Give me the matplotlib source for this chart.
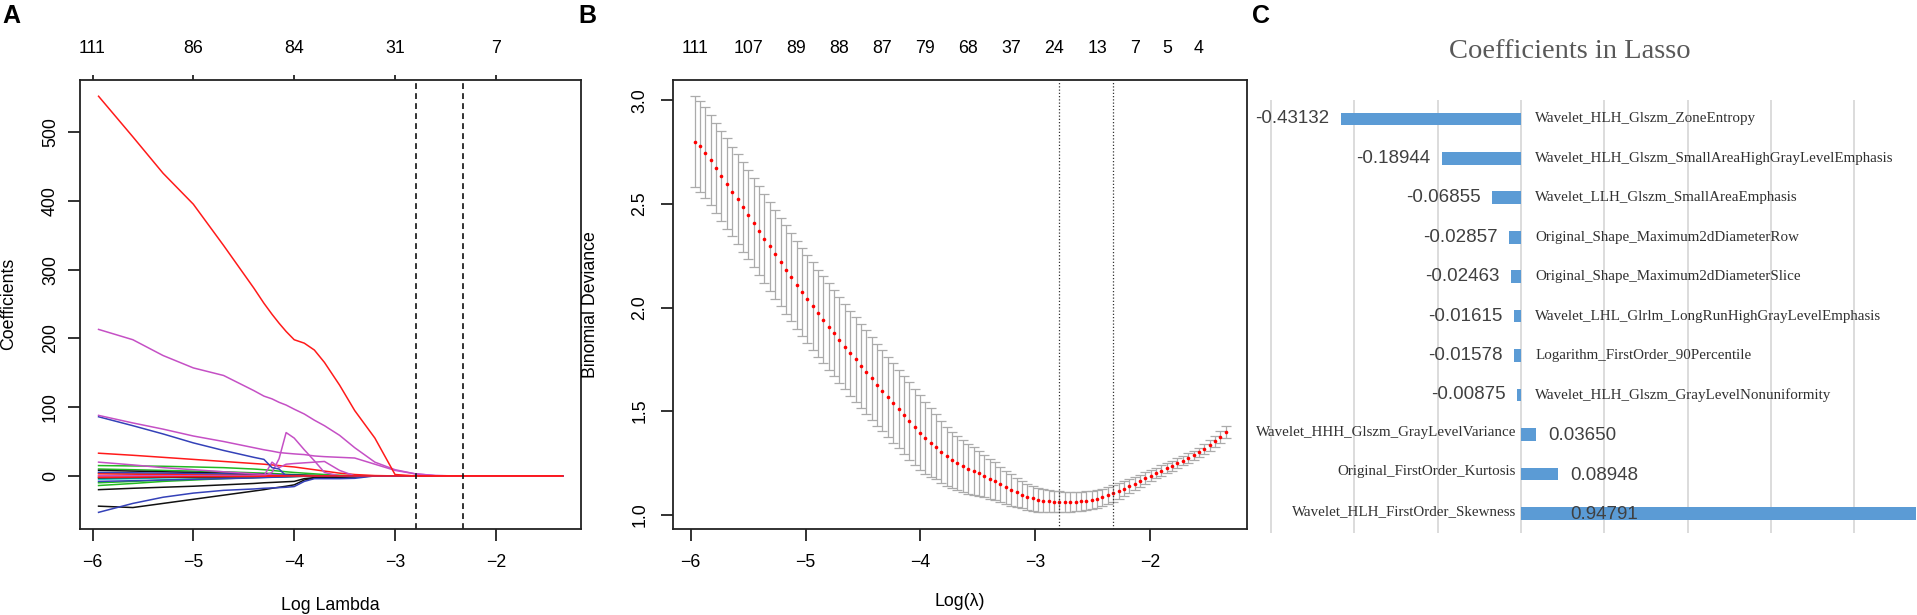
import numpy as np
import matplotlib
matplotlib.use('Agg')
import matplotlib.pyplot as plt
from matplotlib.ticker import FormatStrFormatter

plt.rcParams['font.family'] = ['Liberation Sans', 'DejaVu Sans']

## ---------------- panel A: lasso coefficient paths ----------------
path_knots = [-5.94, -5.6, -5.3, -5.0, -4.7, -4.4, -4.3, -4.22, -4.15, -4.08, -4.0,
              -3.9, -3.8, -3.7, -3.55, -3.4, -3.2, -3.0, -2.8, -2.6, -2.4, -1.34]

red_main   = [552, 493, 440, 395, 335, 273, 251, 235, 222, 210, 198, 193, 183, 165, 132, 95, 55, 2, 0, 0, 0, 0]
pink_main  = [213, 198, 175, 157, 146, 124, 116, 112, 107, 103, 97, 90, 81, 73, 59, 41, 20, 9, 3, 0.5, 0, 0]
pink_2     = [88, 77, 68, 58, 50, 41, 38, 36, 34, 33, 32, 31, 29, 28, 27, 26, 17, 8, 3, 0.5, 0, 0]
blue_1     = [86, 73, 61, 48, 37, 27, 24, 12, 10, 0, 0, 0, 0, 0, 0, 0, 0, 0, 0, 0, 0, 0]
pink_spike = [0, 0, 0, 0, 0, 0, 0, 5, 25, 63, 55, 38, 22, 5, 0, 0, 0, 0, 0, 0, 0, 0]
pink_small = [0, 0, 0, 0, 0, 0, 0, 20, 12, 17, 18, 19, 20, 21, 8, 0, 0, 0, 0, 0, 0, 0]
red_2      = [33, 30, 27, 24, 21, 18, 17, 16, 15, 14, 13, 11, 9, 7, 4, 2, 0.5, 0, 0, 0, 0, 0]
black_1    = [-20, -18, -16.5, -15, -13, -11, -10, -9.5, -9, -8.5, -8, -4, -2.5, -2, -1.5, -1, 0, 0, 0, 0, 0, 0]
black_2    = [-44, -46, -40, -34, -28, -22, -20, -18, -16.5, -15, -13, -6, -3, -2.5, -2, -1.5, 0, 0, 0, 0, 0, 0]
blue_2     = [-53, -40, -31, -25, -21, -19, -18, -17.5, -17, -16.5, -15.5, -8, -4, -4, -4, -3.5, 0, 0, 0, 0, 0, 0]
green_1    = [15, 14.5, 14, 13, 12, 10, 9, 8, 7, 6, 5, 4, 3, 2, 1, 0, 0, 0, 0, 0, 0, 0]
green_2    = [-10, -8, -6, -4.5, -3, -2, -1.5, -1.2, -1, -0.8, -0.5, -0.3, 0, 0, 0, 0, 0, 0, 0, 0, 0, 0]
green_3    = [10, 9, 8, 7, 6, 4.5, 4, 3.5, 3, 2.5, 2, 1, 0.5, 0, 0, 0, 0, 0, 0, 0, 0, 0]
green_4    = [-14, -11, -8, -6, -4, -2.5, -2, -1.8, -1.5, -1.2, -1, -0.5, 0, 0, 0, 0, 0, 0, 0, 0, 0, 0]
cyan_1     = [-5, -4, -3, -2.5, -2, -1.5, -1.2, -1, -0.8, -0.6, -0.4, 0, 0, 0, 0, 0, 0, 0, 0, 0, 0, 0]
cyan_2     = [4, 3.5, 3, 2.5, 2, 1.5, 1.2, 1, 0.8, 0.6, 0.4, 0.2, 0, 0, 0, 0, 0, 0, 0, 0, 0, 0]
black_3    = [8, 7, 6, 5, 4, 3, 2.5, 2, 1.8, 1.5, 1.2, 1, 0.5, 0, 0, 0, 0, 0, 0, 0, 0, 0]
black_4    = [-3, -2.5, -2, -1.8, -1.5, -1, -0.8, -0.6, -0.5, -0.4, -0.3, -0.2, 0, 0, 0, 0, 0, 0, 0, 0, 0, 0]
blue_3     = [5, 4.5, 4, 3.5, 3, 2.5, 2, 2, 1.5, 1.2, 1, 0.5, 0, 0, 0, 0, 0, 0, 0, 0, 0, 0]
blue_4     = [-8, -7, -6, -5, -4, -3, -2.5, -2, -1.8, -1.5, -1, -0.5, 0, 0, 0, 0, 0, 0, 0, 0, 0, 0]
pink_3     = [20, 16, 12, 9, 6, 3, 2, 1.5, 1, 0.5, 0, 0, 0, 0, 0, 0, 0, 0, 0, 0, 0, 0]
red_3      = [3, 2.5, 2, 1.5, 1, 0.5, 0.3, 0.2, 0.1, 0, 0, 0, 0, 0, 0, 0, 0, 0, 0, 0, 0, 0]
red_4      = [-2, -1.8, -1.5, -1.2, -1, -0.8, -0.5, -0.3, 0, 0, 0, 0, 0, 0, 0, 0, 0, 0, 0, 0, 0, 0]

top_ticks_A = [-6, -5, -4, -3, -2]
top_labels_A = ['111', '86', '84', '31', '7']

## ---------------- panel B: cross-validation curve ----------------
log_lambda = [
    -5.965, -5.918, -5.872, -5.825, -5.778, -5.732, -5.685, -5.638, -5.592, -5.545,
    -5.498, -5.452, -5.405, -5.358, -5.312, -5.265, -5.218, -5.171, -5.125, -5.078,
    -5.031, -4.985, -4.938, -4.891, -4.845, -4.798, -4.751, -4.705, -4.658, -4.611,
    -4.565, -4.518, -4.471, -4.425, -4.378, -4.331, -4.285, -4.238, -4.191, -4.144,
    -4.098, -4.051, -4.004, -3.958, -3.911, -3.864, -3.818, -3.771, -3.724, -3.678,
    -3.631, -3.584, -3.538, -3.491, -3.444, -3.398, -3.351, -3.304, -3.258, -3.211,
    -3.164, -3.118, -3.071, -3.024, -2.977, -2.931, -2.884, -2.837, -2.791, -2.744,
    -2.697, -2.651, -2.604, -2.557, -2.511, -2.464, -2.417, -2.371, -2.324, -2.277,
    -2.231, -2.184, -2.137, -2.091, -2.044, -1.997, -1.951, -1.904, -1.857, -1.811,
    -1.764, -1.717, -1.671, -1.624, -1.577, -1.531, -1.484, -1.437, -1.391, -1.344]
cv_mean = [
    2.800, 2.778, 2.748, 2.712, 2.673, 2.635, 2.598, 2.560, 2.522, 2.486,
    2.448, 2.410, 2.371, 2.333, 2.295, 2.258, 2.220, 2.183, 2.147, 2.110,
    2.074, 2.040, 2.006, 1.972, 1.940, 1.907, 1.875, 1.843, 1.811, 1.780,
    1.749, 1.718, 1.688, 1.658, 1.628, 1.598, 1.568, 1.539, 1.510, 1.481,
    1.452, 1.424, 1.396, 1.370, 1.348, 1.327, 1.302, 1.281, 1.264, 1.249,
    1.235, 1.221, 1.210, 1.199, 1.187, 1.174, 1.161, 1.146, 1.132, 1.119,
    1.107, 1.096, 1.086, 1.078, 1.072, 1.068, 1.065, 1.063, 1.062, 1.062,
    1.062, 1.063, 1.064, 1.067, 1.071, 1.077, 1.084, 1.093, 1.103, 1.114,
    1.126, 1.138, 1.150, 1.162, 1.175, 1.188, 1.201, 1.213, 1.225, 1.237,
    1.249, 1.261, 1.273, 1.286, 1.300, 1.316, 1.334, 1.355, 1.376, 1.397]
cv_se = [
    0.220, 0.220, 0.219, 0.219, 0.218, 0.218, 0.218, 0.217, 0.217, 0.217,
    0.216, 0.216, 0.216, 0.215, 0.215, 0.215, 0.214, 0.214, 0.214, 0.213,
    0.213, 0.212, 0.212, 0.211, 0.210, 0.209, 0.208, 0.207, 0.206, 0.205,
    0.204, 0.203, 0.202, 0.200, 0.198, 0.196, 0.194, 0.192, 0.190, 0.188,
    0.186, 0.183, 0.180, 0.174, 0.166, 0.157, 0.150, 0.143, 0.137, 0.131,
    0.125, 0.120, 0.115, 0.109, 0.103, 0.097, 0.092, 0.086, 0.080, 0.075,
    0.070, 0.066, 0.062, 0.059, 0.057, 0.055, 0.053, 0.052, 0.050, 0.049,
    0.048, 0.047, 0.046, 0.045, 0.044, 0.043, 0.042, 0.041, 0.040, 0.038,
    0.036, 0.034, 0.032, 0.030, 0.029, 0.027, 0.026, 0.025, 0.024, 0.024,
    0.023, 0.023, 0.023, 0.023, 0.024, 0.025, 0.026, 0.027, 0.028, 0.029]
## number of non-zero coefficients, shown at these lambda indices
nz_index = [0, 10, 19, 27, 35, 43, 51, 59, 67, 75, 82, 88, 94]
nz_labels = ['111', '107', '89', '88', '87', '79', '68', '37', '24', '13', '7', '5', '4']

## ---------------- panel C: selected features ----------------
features = [
    'Wavelet_HLH_Glszm_ZoneEntropy',
    'Wavelet_HLH_Glszm_SmallAreaHighGrayLevelEmphasis',
    'Wavelet_LLH_Glszm_SmallAreaEmphasis',
    'Original_Shape_Maximum2dDiameterRow',
    'Original_Shape_Maximum2dDiameterSlice',
    'Wavelet_LHL_Glrlm_LongRunHighGrayLevelEmphasis',
    'Logarithm_FirstOrder_90Percentile',
    'Wavelet_HLH_Glszm_GrayLevelNonuniformity',
    'Wavelet_HHH_Glszm_GrayLevelVariance',
    'Original_FirstOrder_Kurtosis',
    'Wavelet_HLH_FirstOrder_Skewness']
coefs = [-0.43132, -0.18944, -0.06855, -0.02857, -0.02463, -0.01615,
         -0.01578, -0.00875, 0.03650, 0.08948, 0.94791]
grid_ticks = [-0.6, -0.4, -0.2, 0, 0.2, 0.4, 0.6, 0.8]

## ---------------- figure ----------------
W, H = 1917, 615
fig = plt.figure(figsize=(W / 100, H / 100), dpi=100)

def px_axes(left, top, right, bottom):
    """axes from pixel box (origin top left)"""
    return fig.add_axes([left / W, 1 - bottom / H, (right - left) / W, (bottom - top) / H])

R_COLORS = {'red': '#ff1a1a', 'pink': '#c550c5', 'blue': '#3441b8', 'green': '#22b822',
            'black': '#111111', 'cyan': '#22cccc'}
FS = 12.8
LW_BOX = 1.3

def r_style(ax, ypad):
    for sp in ax.spines.values():
        sp.set_linewidth(LW_BOX)
        sp.set_color('#222222')
    ax.tick_params(direction='out', length=8.6, width=LW_BOX, labelsize=FS, color='#222222')
    ax.tick_params(axis='x', pad=9.5)
    ax.tick_params(axis='y', pad=ypad, labelrotation=90)
    for lab in ax.get_yticklabels():
        lab.set_va('center')

## ---- A ----
axA = px_axes(80, 79.6, 581, 529)
paths = [
    (green_1, 'green'), (green_2, 'green'), (green_3, 'green'), (green_4, 'green'),
    (cyan_1, 'cyan'), (cyan_2, 'cyan'), (black_3, 'black'), (black_4, 'black'),
    (blue_3, 'blue'), (blue_4, 'blue'), (pink_3, 'pink'), (red_3, 'red'),
    (black_1, 'black'), (black_2, 'black'), (blue_2, 'blue'), (red_2, 'red'),
    (pink_small, 'pink'), (pink_spike, 'pink'), (blue_1, 'blue'), (pink_2, 'pink'),
    (pink_main, 'pink'), (red_main, 'red'), (red_4, 'red')]
for vals, col in paths:
    axA.plot(path_knots, vals, color=R_COLORS[col], lw=1.1)
axA.margins(x=0.04, y=0.04)
axA.set_xticks([-6, -5, -4, -3, -2])
axA.set_yticks([0, 100, 200, 300, 400, 500])
r_style(axA, 6.5)

## lambda.min and lambda.1se from the CV curve
i_min = int(np.argmin(cv_mean))
thr = cv_mean[i_min] + cv_se[i_min]
i_1se = max(i for i, m in enumerate(cv_mean) if m <= thr)
for i in (i_min, i_1se):
    axA.axvline(log_lambda[i], color='#111111', lw=1.2, ls=(0, (3.5, 2.5)))

secA = axA.secondary_xaxis('top')
secA.set_xticks(top_ticks_A, labels=top_labels_A)
secA.tick_params(length=3.6, width=LW_BOX, labelsize=FS, pad=12.5, color='#222222')
secA.spines['top'].set_visible(False)

axA.set_xlabel('Log Lambda', fontsize=FS)
axA.xaxis.set_label_coords(0.5, (529 - 606) / 449.4)
axA.xaxis.label.set_va('center')
axA.set_ylabel('Coefficients', fontsize=FS)
axA.yaxis.set_label_coords((8.5 - 80) / 501, 0.5)
axA.yaxis.label.set_va('center')

## ---- B ----
axB = px_axes(673.4, 79.6, 1247, 529)
axB.errorbar(log_lambda, cv_mean, yerr=cv_se, fmt='none', ecolor='#ababab',
             elinewidth=0.9, capsize=3.8, capthick=0.9)
axB.plot(log_lambda, cv_mean, 'o', color='#ff0000', ms=2.6, mec='none')
axB.margins(x=0.04, y=0.04)
for i in (i_min, i_1se):
    axB.axvline(log_lambda[i], color='#333333', lw=0.9, ls=(0, (1, 1.6)))
axB.set_xticks([-6, -5, -4, -3, -2])
axB.set_yticks([1.0, 1.5, 2.0, 2.5, 3.0])
axB.yaxis.set_major_formatter(FormatStrFormatter('%.1f'))
r_style(axB, 9.5)

secB = axB.secondary_xaxis('top')
secB.set_xticks([log_lambda[i] for i in nz_index], labels=nz_labels)
secB.tick_params(length=0, labelsize=FS, pad=16.3)
secB.spines['top'].set_visible(False)

axB.set_xlabel('Log(λ)', fontsize=FS)
axB.xaxis.set_label_coords(0.5, (529 - 602) / 449.4)
axB.xaxis.label.set_va('center')
axB.set_ylabel('Binomial Deviance', fontsize=FS)
axB.yaxis.set_label_coords((590 - 673.4) / 573.6, 0.5)
axB.yaxis.label.set_va('center')

## ---- C ----
zero_px = 1521
unit_px = 416.5
xlo, xhi = -0.62, (W - zero_px) / unit_px
axC = px_axes(zero_px + xlo * unit_px, 100, W, 533)
rows = np.arange(len(coefs))
axC.barh(rows, coefs, height=0.32, color='#5b9bd5', zorder=2)
axC.set_xlim(xlo, xhi)
axC.set_ylim(len(coefs) - 0.5, -0.48)
axC.set_xticks(grid_ticks)
axC.set_yticks([])
axC.tick_params(length=0, labelbottom=False)
axC.grid(axis='x', color='#d6d6d6', lw=1.2, zorder=0)
axC.set_axisbelow(True)
for sp in axC.spines.values():
    sp.set_visible(False)

name_kw = dict(family=['Liberation Serif', 'DejaVu Serif'], fontsize=10.8, color='#303030', va='center')
val_kw = dict(family=['Liberation Sans', 'DejaVu Sans'], fontsize=13.5, color='#404040', va='center')
pad = 0.028
for r, name, v in zip(rows, features, coefs):
    lab = f'{v:.5f}'
    if v < 0:
        axC.text(0.034, r, name, ha='left', **name_kw)
        axC.text(v - pad, r, lab, ha='right', **val_kw)
    else:
        axC.text(-0.012, r - 0.05, name, ha='right', **name_kw)
        ## labels of bars running off the panel sit near the base of the bar
        axC.text(min(v, 0.09) + pad, r + 0.03, lab, ha='left', **val_kw)

fig.text(1570 / W, 1 - 52 / H, 'Coefficients in Lasso', ha='center', va='center',
         family=['Liberation Serif', 'DejaVu Serif'], fontsize=20.5, color='#595959')

## panel letters
for x, letter in ((2, 'A'), (578, 'B'), (1252, 'C')):
    fig.text(x / W, 1 - 16 / H, letter, ha='left', va='center', fontsize=18, fontweight='bold')

fig.savefig('out.png', dpi=100)
